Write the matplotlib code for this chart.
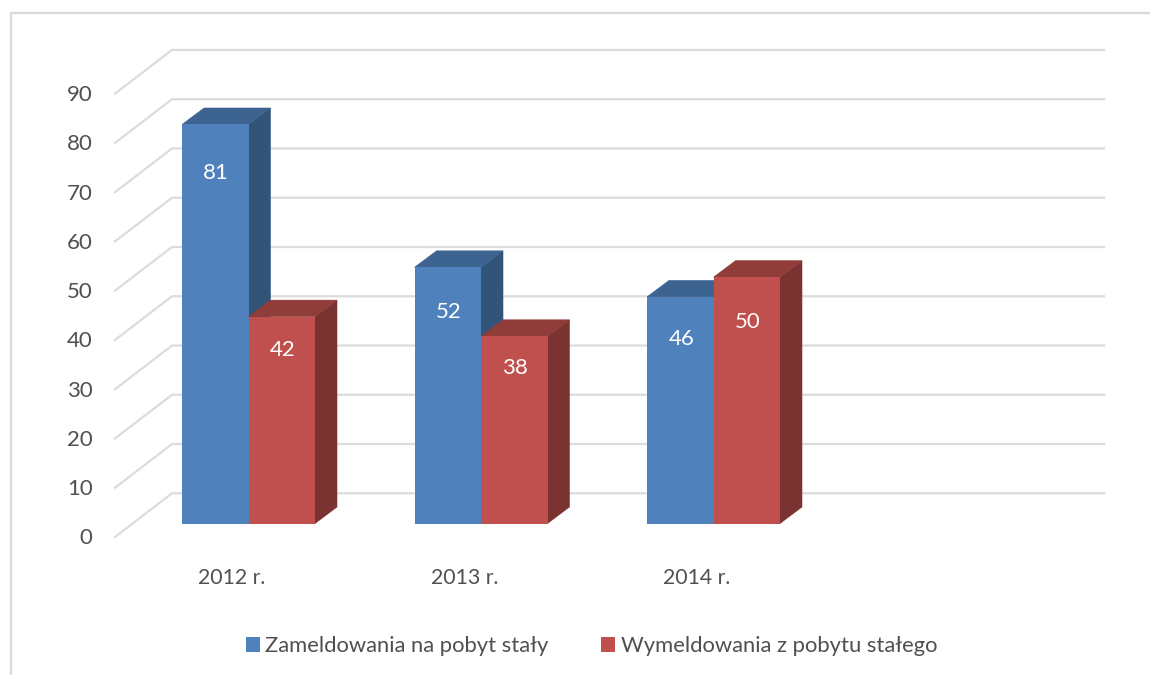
import matplotlib
matplotlib.use("Agg")
import matplotlib.pyplot as plt
from matplotlib.patches import Polygon, Patch

categories = ["2012 r.", "2013 r.", "2014 r."]
series_names = ["Zameldowania na pobyt stały", "Wymeldowania z pobytu stałego"]
zameldowania = [81, 52, 46]
wymeldowania = [42, 38, 50]
y_ticks = [0, 10, 20, 30, 40, 50, 60, 70, 80, 90]

W, H = 1150, 675
PX_X = 232.5          # pixels per category
PX_Y = 4.926          # pixels per value unit
X0, Y0 = 182.0, 523.5 # pixel of category 0 left edge / value 0 on the front plane

plt.rcParams["font.family"] = ["Lato", "DejaVu Sans"]
fig = plt.figure(figsize=(W / 100, H / 100), dpi=100, facecolor="white")
ax = fig.add_axes([0, 0, 1, 1])
ax.set_xlim(-X0 / PX_X, (W - X0) / PX_X)
ax.set_ylim(-(H - Y0) / PX_Y, Y0 / PX_Y)
ax.axis("off")

dxu = lambda px: px / PX_X
dyu = lambda px: px / PX_Y
xp = lambda px: (px - X0) / PX_X
yp = lambda px: (Y0 - px) / PX_Y

GRID = "#dcdcdc"
TXT = "#505050"

# outer frame of the chart
ax.plot([xp(11), xp(11), xp(1150)], [yp(675), yp(13), yp(13)], color="#d9d9d9", lw=1.6, zorder=1,
        solid_joinstyle="miter")

# walls
back_dy = dyu(30.2)
front_dy = dyu(-13.5)
wall_l, wall_b, wall_r = xp(115), xp(172), xp(1104)
for v in y_ticks:
    ax.plot([wall_l, wall_b, wall_r], [v + front_dy, v + back_dy, v + back_dy], color=GRID, lw=1.6, zorder=1)
    ax.text(xp(92.5), v + front_dy + dyu(0.5), str(v), ha="right", va="center_baseline", fontsize=16, color=TXT)

# bars
bar_w = 66.5 / PX_X
dx, dy = dxu(22), dyu(16.5)
colors = [("#4F81BD", "#3D6391", "#335479"), ("#C0504D", "#903D3A", "#7A3330")]
label_drop = [[47, 43, 40], [31, 30, 43]]   # label distance below the bar top, pixels

z = 3
for i, cat in enumerate(categories):
    for s, vals in enumerate([zameldowania, wymeldowania]):
        v = vals[i]
        l = i + s * bar_w
        r = l + bar_w
        front, top, side = colors[s]
        ax.add_patch(Polygon([(r, 0), (r + dx, dy), (r + dx, v + dy), (r, v)], fc=side, ec=side, lw=0.4, zorder=z))
        ax.add_patch(Polygon([(l, v), (l + dx, v + dy), (r + dx, v + dy), (r, v)], fc=top, ec=top, lw=0.4, zorder=z))
        ax.bar(l, v, width=bar_w, align="edge", color=front, edgecolor="none", linewidth=0, zorder=z + 0.1)
        ax.text(l + bar_w / 2 + dxu(1), v - dyu(label_drop[s][i]), str(v), ha="center", va="center_baseline",
                color="white", fontsize=16, zorder=z + 0.2)
        z += 1
    ax.text(i + bar_w * 0.75, yp(576), cat, ha="center", va="center_baseline", fontsize=15.3, color=TXT)

handles = [Patch(fc=colors[0][0], ec="none"), Patch(fc=colors[1][0], ec="none")]
leg = ax.legend(handles, series_names, loc="center", bbox_to_anchor=((245 + 938) / 2 / W, 1 - 646 / H),
                bbox_transform=fig.transFigure, ncol=2, frameon=False, fontsize=15.85, labelcolor=TXT,
                handlelength=0.64, handleheight=0.64, handletextpad=0.23, columnspacing=2.4,
                borderpad=0, borderaxespad=0)

fig.savefig("out.png", dpi=100, facecolor="white")
